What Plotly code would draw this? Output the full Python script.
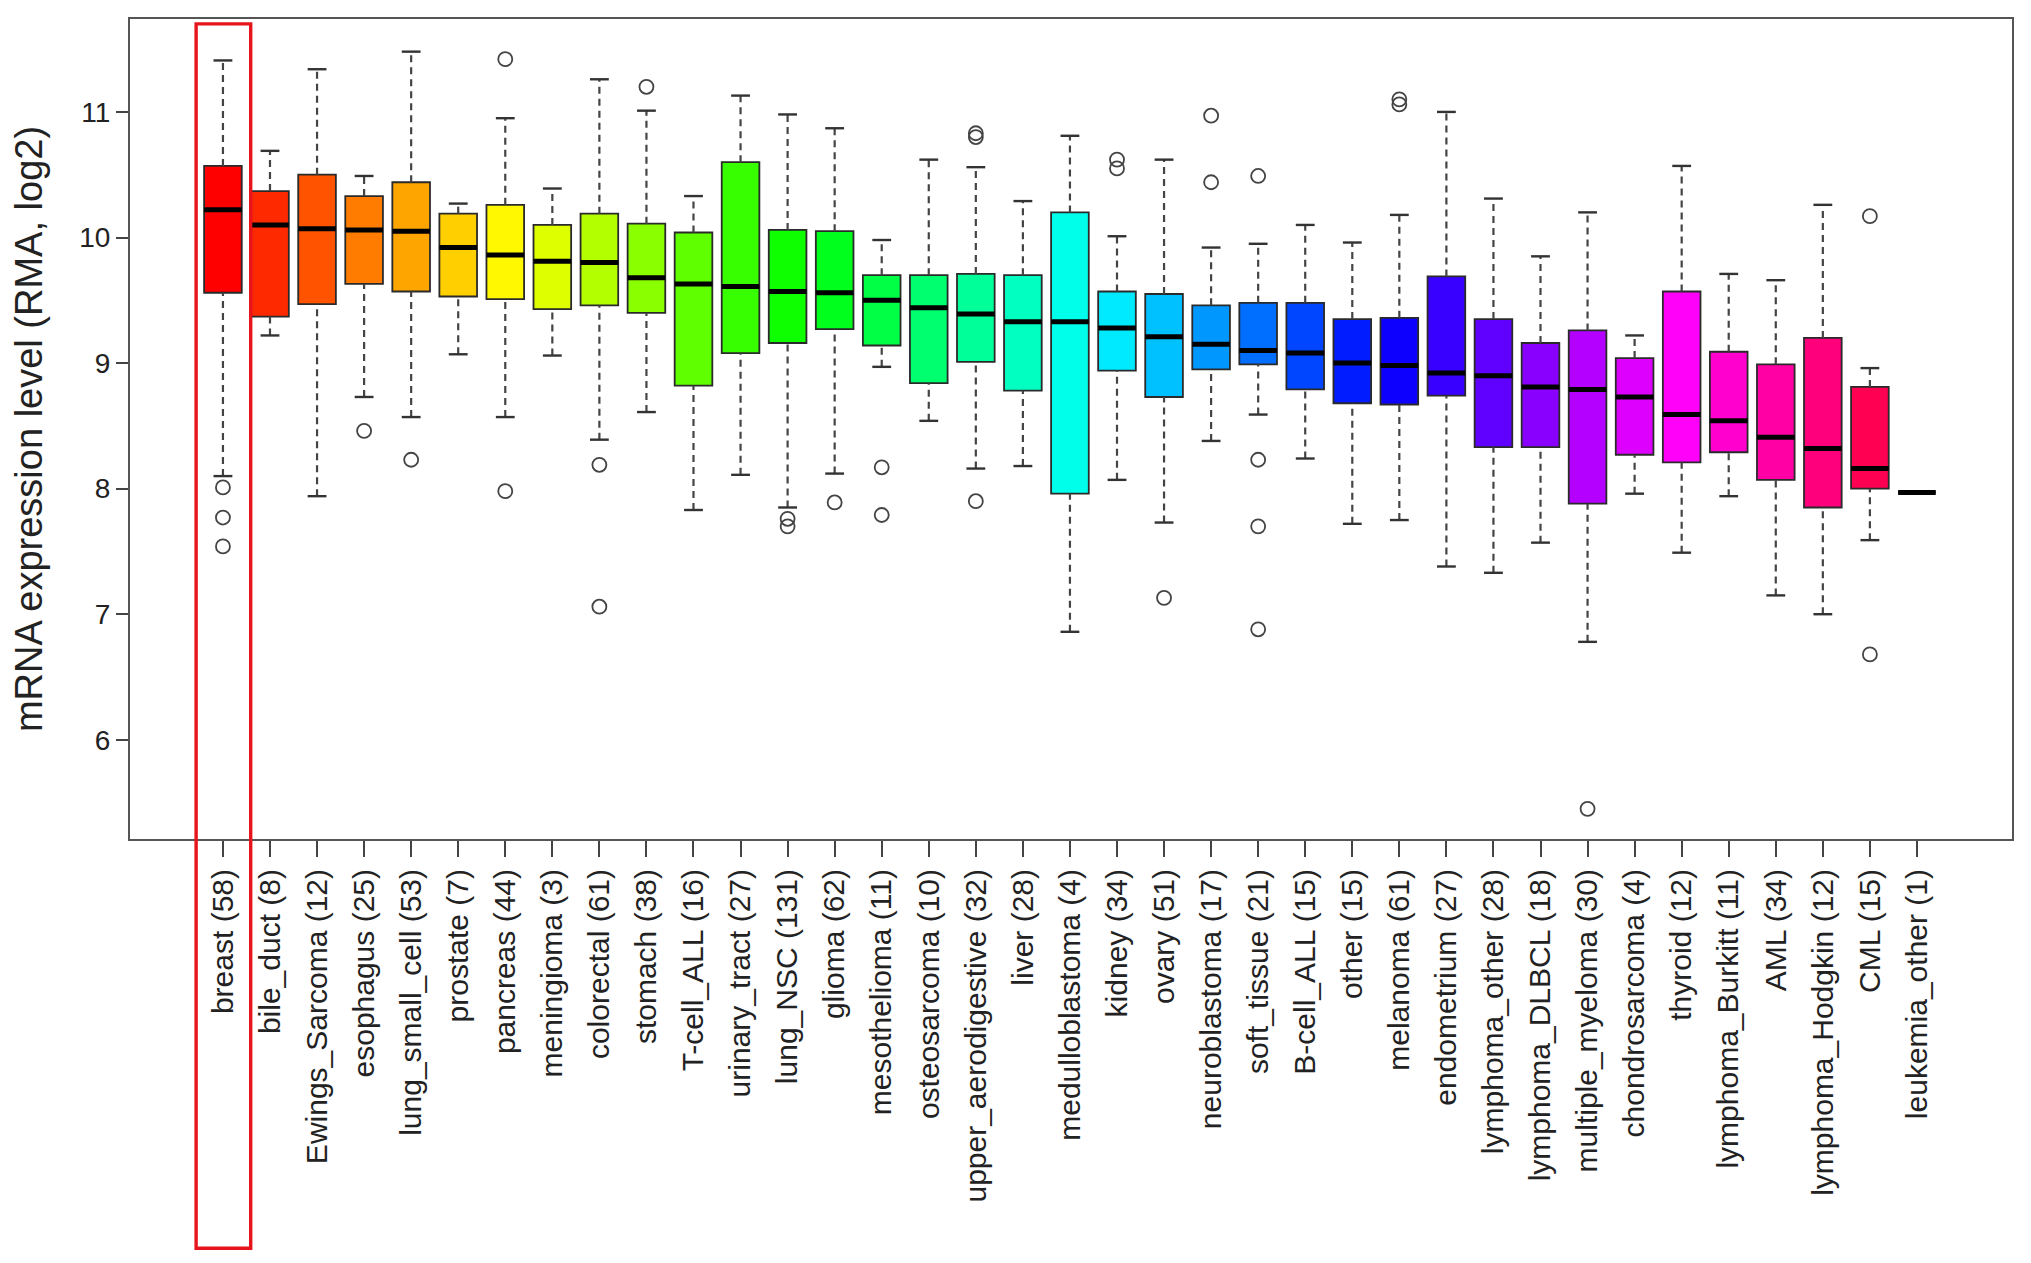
import colorsys
import plotly.graph_objects as go

categories = ["breast", "bile_duct", "Ewings_Sarcoma", "esophagus", "lung_small_cell", "prostate",
              "pancreas", "meningioma", "colorectal", "stomach", "T-cell_ALL", "urinary_tract",
              "lung_NSC", "glioma", "mesothelioma", "osteosarcoma", "upper_aerodigestive", "liver",
              "medulloblastoma", "kidney", "ovary", "neuroblastoma", "soft_tissue", "B-cell_ALL",
              "other", "melanoma", "endometrium", "lymphoma_other", "lymphoma_DLBCL",
              "multiple_myeloma", "chondrosarcoma", "thyroid", "lymphoma_Burkitt", "AML",
              "lymphoma_Hodgkin", "CML", "leukemia_other"]
counts = [58, 8, 12, 25, 53, 7, 44, 3, 61, 38, 16, 27, 131, 62, 11, 10, 32, 28, 4, 34, 51, 17,
          21, 15, 15, 61, 27, 28, 18, 30, 4, 12, 11, 34, 12, 15, 1]
whisker_low = [8.10, 9.22, 7.94, 8.73, 8.57, 9.07, 8.57, 9.06, 8.39, 8.61, 7.83, 8.11, 7.85, 8.12,
               8.97, 8.54, 8.16, 8.18, 6.86, 8.07, 7.73, 8.38, 8.59, 8.24, 7.72, 7.75, 7.38, 7.33,
               7.57, 6.78, 7.96, 7.49, 7.94, 7.15, 7.00, 7.59, 7.97]
q1 = [9.56, 9.37, 9.47, 9.63, 9.57, 9.53, 9.51, 9.43, 9.46, 9.40, 8.82, 9.08, 9.16, 9.27, 9.14,
      8.84, 9.01, 8.78, 7.96, 8.94, 8.73, 8.95, 8.99, 8.79, 8.68, 8.67, 8.74, 8.33, 8.33, 7.88,
      8.27, 8.21, 8.29, 8.07, 7.85, 8.00, 7.97]
median = [10.22, 10.10, 10.07, 10.06, 10.05, 9.92, 9.86, 9.81, 9.80, 9.68, 9.63, 9.61, 9.57, 9.56,
          9.50, 9.44, 9.39, 9.33, 9.33, 9.28, 9.21, 9.15, 9.10, 9.08, 9.00, 8.98, 8.92, 8.90, 8.81,
          8.79, 8.73, 8.59, 8.54, 8.41, 8.32, 8.16, 7.97]
q3 = [10.57, 10.37, 10.50, 10.33, 10.44, 10.19, 10.26, 10.10, 10.19, 10.11, 10.04, 10.60, 10.06,
      10.05, 9.70, 9.70, 9.71, 9.70, 10.20, 9.57, 9.55, 9.46, 9.48, 9.48, 9.35, 9.36, 9.69, 9.35,
      9.16, 9.26, 9.04, 9.57, 9.09, 8.99, 9.20, 8.81, 7.97]
whisker_high = [11.41, 10.69, 11.34, 10.49, 11.48, 10.27, 10.95, 10.39, 11.26, 11.01, 10.33, 11.13,
                10.98, 10.87, 9.98, 10.62, 10.56, 10.29, 10.81, 10.01, 10.62, 9.92, 9.95, 10.10,
                9.96, 10.18, 11.00, 10.31, 9.85, 10.20, 9.22, 10.57, 9.71, 9.66, 10.26, 8.96, 7.97]
outliers = [[8.01, 7.77, 7.54], [], [], [8.46], [8.23], [], [11.42, 7.98], [], [8.19, 7.06],
            [11.20], [], [], [7.76, 7.70], [7.89], [8.17, 7.79], [], [10.83, 10.80, 7.90], [], [],
            [10.62, 10.55], [7.13], [10.97, 10.44], [10.49, 8.23, 7.70, 6.88], [], [],
            [11.10, 11.06], [], [], [], [5.45], [], [], [], [], [], [10.17, 6.68], []]
y_ticks = [6, 7, 8, 9, 10, 11]
highlight = "breast"

# ---- styling ----
n = len(categories)
pos = list(range(n))
X_RANGE = [-1.975, 38.02]
Y_RANGE = [5.21, 11.74]
BOX_W = 0.8
CAP_HW = 0.2
FONT = "Liberation Sans, Arial, sans-serif"
colors = []
for i in range(n):
    r, g, b = colorsys.hsv_to_rgb(i / n, 1, 1)
    colors.append("#%02x%02x%02x" % (round(r * 255), round(g * 255), round(b * 255)))

fig = go.Figure()

# dashed whiskers
wx, wy = [], []
for p, lo, a, b, hi in zip(pos, whisker_low, q1, q3, whisker_high):
    if hi > b:
        wx += [p, p, None]; wy += [b, hi, None]
    if lo < a:
        wx += [p, p, None]; wy += [lo, a, None]
fig.add_trace(go.Scatter(x=wx, y=wy, mode="lines", showlegend=False, hoverinfo="skip",
                         line=dict(color="#444444", width=2.2, dash="7px,5px")))
# whisker caps
cx, cy = [], []
for p, lo, hi, a, b in zip(pos, whisker_low, whisker_high, q1, q3):
    if hi > b:
        cx += [p - CAP_HW, p + CAP_HW, None]; cy += [hi, hi, None]
    if lo < a:
        cx += [p - CAP_HW, p + CAP_HW, None]; cy += [lo, lo, None]
fig.add_trace(go.Scatter(x=cx, y=cy, mode="lines", showlegend=False, hoverinfo="skip",
                         line=dict(color="#333333", width=2.4)))

# boxes
for i in range(n):
    fig.add_trace(go.Box(
        x=[pos[i]], q1=[q1[i]], median=[median[i]], q3=[q3[i]],
        lowerfence=[q1[i]], upperfence=[q3[i]],
        width=BOX_W, whiskerwidth=0, fillcolor=colors[i],
        line=dict(color="#2a2a2a", width=1.8),
        name=categories[i], showlegend=False, boxpoints=False))

# thick medians
mx, my = [], []
for p, m in zip(pos, median):
    mx += [p - BOX_W / 2, p + BOX_W / 2, None]; my += [m, m, None]
fig.add_trace(go.Scatter(x=mx, y=my, mode="lines", showlegend=False, hoverinfo="skip",
                         line=dict(color="#000000", width=5)))

# outliers
ox, oy = [], []
for p, outs in zip(pos, outliers):
    for v in outs:
        ox.append(p); oy.append(v)
fig.add_trace(go.Scatter(x=ox, y=oy, mode="markers", showlegend=False,
                         marker=dict(symbol="circle-open", size=14, color="#444444",
                                     line=dict(width=1.8, color="#444444"))))

# highlight rectangle around the highlighted category
hp = pos[categories.index(highlight)]
span = X_RANGE[1] - X_RANGE[0]
fig.add_shape(type="rect", xref="paper", yref="paper",
              x0=(hp - 0.57 - X_RANGE[0]) / span, x1=(hp + 0.59 - X_RANGE[0]) / span,
              y0=-0.499, y1=0.994, line=dict(color="#e8141c", width=3.4),
              fillcolor="rgba(0,0,0,0)")

labels = [f"{c} ({k})" for c, k in zip(categories, counts)]

fig.update_layout(
    width=2015, height=1247,
    margin=dict(l=122, r=10, t=9, b=416, pad=0),
    plot_bgcolor="white", paper_bgcolor="white",
    font=dict(family=FONT, color="#222222"),
    xaxis=dict(range=X_RANGE, tickmode="array", tickvals=pos, ticktext=labels,
               tickangle=-90, tickfont=dict(size=30, family=FONT, color="#222222"),
               ticks="outside", ticklen=16, tickwidth=2, tickcolor="#444444",
               showline=True, mirror=True, linecolor="#555555", linewidth=2,
               showgrid=False, zeroline=False),
    yaxis=dict(range=Y_RANGE, tickmode="array", tickvals=y_ticks,
               ticks="outside", ticklen=12, tickwidth=2, tickcolor="#444444",
               tickfont=dict(size=28, family=FONT, color="#222222"),
               showline=True, mirror=True, linecolor="#555555", linewidth=2,
               showgrid=False, zeroline=False,
               title=dict(text="mRNA expression level (RMA, log2)", standoff=26,
                          font=dict(size=38, family=FONT, color="#222222"))),
)

fig.write_html("out.html")
